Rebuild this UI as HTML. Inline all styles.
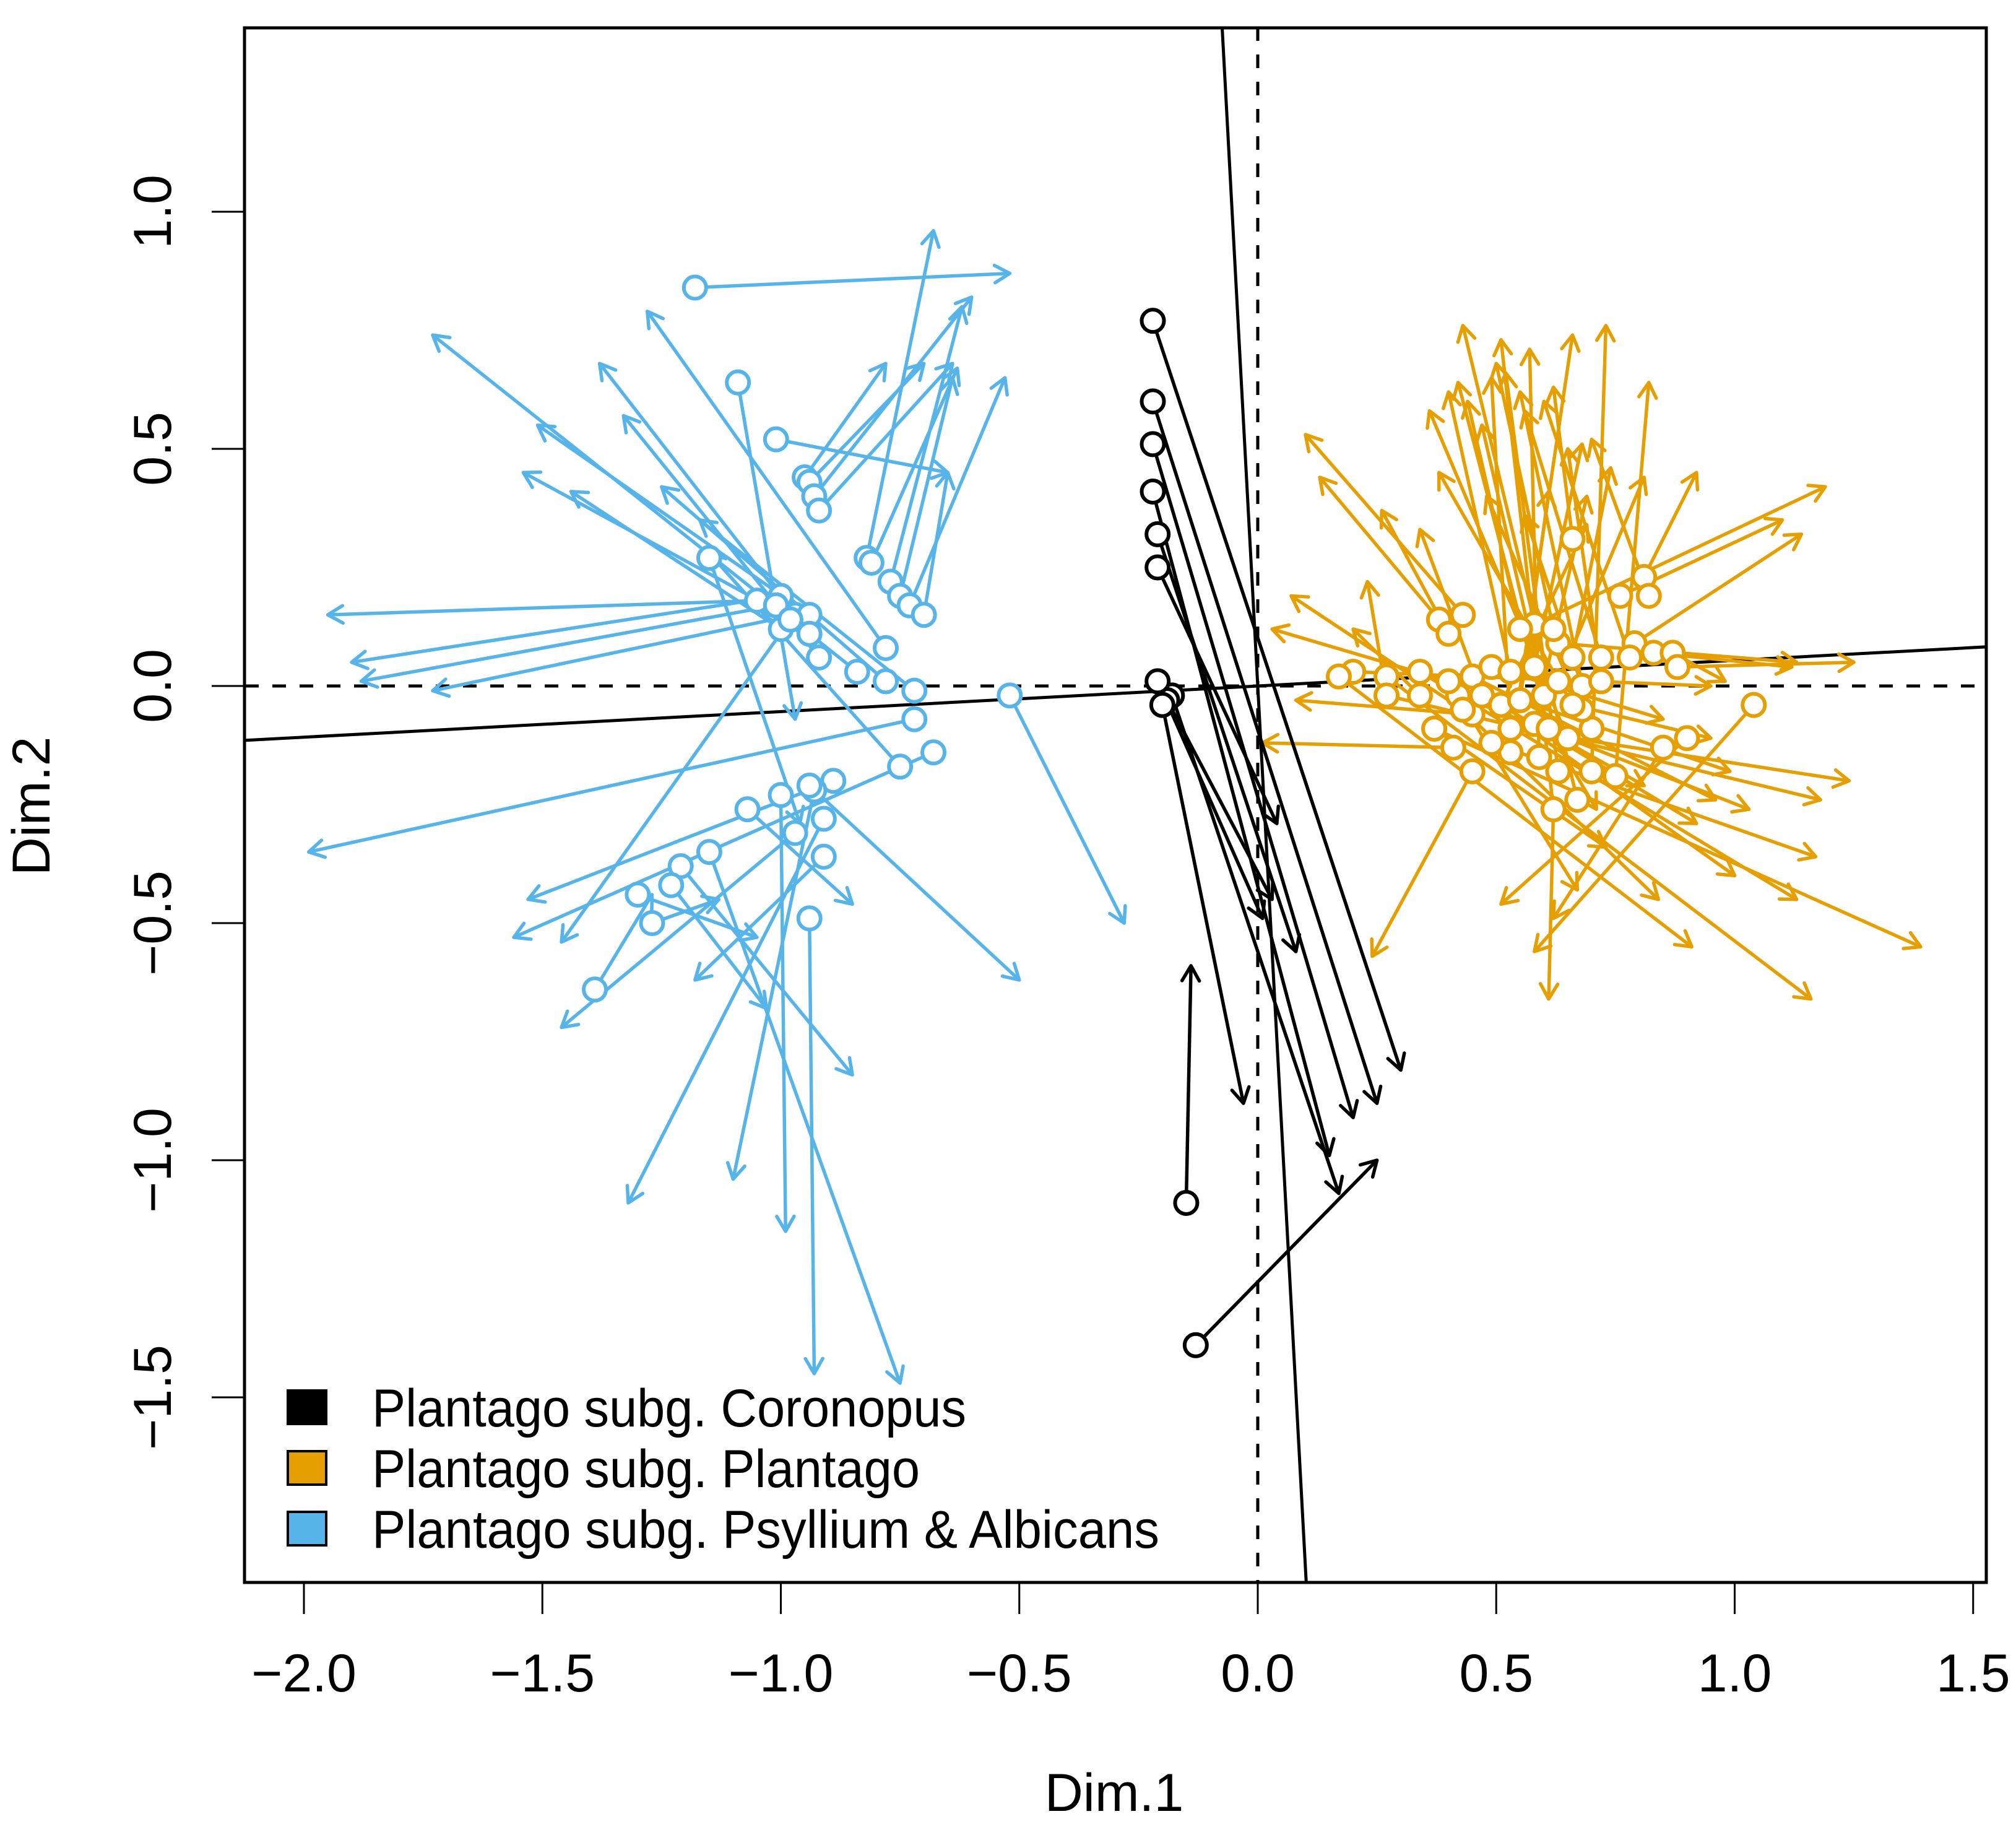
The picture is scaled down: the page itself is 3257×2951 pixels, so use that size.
<!DOCTYPE html>
<html><head><meta charset="utf-8"><style>
html,body{margin:0;padding:0;background:#fff;}
svg{display:block;}
text{font-family:"Liberation Sans",Arial,sans-serif;fill:#000;}
</style></head><body>
<svg id="chart" width="3257" height="2951" viewBox="0 0 3257 2951" xmlns="http://www.w3.org/2000/svg">
<defs><clipPath id="plotclip"><rect x="395" y="45" width="2814" height="2511"/></clipPath></defs>
<rect x="0" y="0" width="3257" height="2951" fill="#fff"/>
<g id="plot" clip-path="url(#plotclip)"></g>
<rect x="395" y="45" width="2814" height="2511" fill="none" stroke="#000" stroke-width="5"/>
<g id="axes"></g>
<text x="1800" y="2925" font-size="86" text-anchor="middle">Dim.1</text>
<text transform="translate(80,1302) rotate(-90)" x="0" y="0" font-size="86" text-anchor="middle">Dim.2</text>
<g id="legend">
<rect x="465" y="2246" width="62" height="54" fill="#000" stroke="#000" stroke-width="4"/>
<text x="601" y="2304" font-size="86" textLength="960" lengthAdjust="spacingAndGlyphs">Plantago subg. Coronopus</text>
<rect x="465" y="2344" width="62" height="54" fill="#E69F00" stroke="#000" stroke-width="4"/>
<text x="601" y="2402" font-size="86" textLength="885" lengthAdjust="spacingAndGlyphs">Plantago subg. Plantago</text>
<rect x="465" y="2442" width="62" height="54" fill="#56B4E9" stroke="#000" stroke-width="4"/>
<text x="601" y="2500" font-size="86" textLength="1272" lengthAdjust="spacingAndGlyphs">Plantago subg. Psyllium &amp; Albicans</text>
</g>
</svg>
<script>
// ---- data ----
const xTicks = [-2.0, -1.5, -1.0, -0.5, 0.0, 0.5, 1.0, 1.5];
const xTickLabels = ["\u22122.0", "\u22121.5", "\u22121.0", "\u22120.5", "0.0", "0.5", "1.0", "1.5"];
const yTicks = [1.0, 0.5, 0.0, -0.5, -1.0, -1.5];
const yTickLabels = ["1.0", "0.5", "0.0", "\u22120.5", "\u22121.0", "\u22121.5"];
const rotationSlopes = [-18.6, 0.054];
// arrows: [x0, y0, x1, y1]
const psylliumArrows = [
[-1.18,0.84,-0.52,0.87],[-1.09,0.64,-0.97,-0.07],[-1.01,0.52,-0.65,0.45],[-0.95,0.44,-0.78,0.68],
[-0.94,0.43,-0.70,0.68],[-0.93,0.40,-0.60,0.82],[-0.92,0.37,-0.64,0.68],[-0.82,0.27,-0.68,0.96],
[-0.81,0.26,-0.63,0.67],[-0.77,0.22,-0.62,0.80],[-0.75,0.19,-0.64,0.65],[-0.73,0.17,-0.53,0.65],
[-0.70,0.15,-0.65,0.45],[-1.05,0.18,-1.95,0.15],[-1.00,0.19,-1.90,0.05],[-0.97,0.15,-1.73,-0.01],
[-1.01,0.16,-1.54,0.45],[-1.15,0.27,-0.96,-0.29],[-0.94,0.15,-1.51,0.55],[-1.00,0.12,-1.44,0.41],
[-0.94,0.11,-1.38,0.68],[-0.92,0.06,-1.33,0.57],[-0.78,0.08,-1.28,0.79],[-0.84,0.03,-1.73,0.74],
[-0.78,0.01,-1.25,0.42],[-0.72,-0.01,-1.17,0.35],[-0.72,-0.07,-1.99,-0.35],[-0.68,-0.14,-1.56,-0.53],
[-0.75,-0.17,-1.15,0.28],[-0.52,-0.02,-0.28,-0.50],[-0.89,-0.20,-1.53,-0.45],[-0.93,-0.22,-1.10,-1.04],
[-0.94,-0.21,-0.50,-0.62],[-0.97,-0.31,-1.46,-0.72],[-0.91,-0.28,-1.32,-1.09],[-0.91,-0.36,-1.18,-0.62],
[-1.00,-0.23,-0.99,-1.15],[-1.07,-0.26,-0.85,-0.46],[-1.15,-0.35,-0.75,-1.47],[-1.21,-0.38,-0.85,-0.82],
[-1.23,-0.42,-1.03,-0.68],[-1.30,-0.44,-1.05,-0.53],[-1.27,-0.50,-1.13,-0.45],[-1.39,-0.64,-1.27,-0.44],
[-0.94,-0.49,-0.93,-1.45],[-1.01,0.17,-1.88,0.01],[-0.98,0.14,-1.46,-0.54]
];
const plantagoArrows = [
[0.67,-0.24,0.43,0.76],[0.62,-0.26,0.51,0.73],[0.63,-0.18,0.52,0.66],[0.59,-0.15,0.57,0.71],
[0.53,-0.14,0.66,0.74],[0.70,-0.18,0.73,0.76],[0.75,-0.19,0.82,0.64],[0.65,-0.11,0.36,0.58],
[0.61,-0.09,0.42,0.64],[0.53,-0.09,0.49,0.65],[0.70,-0.09,0.55,0.62],[0.60,-0.02,0.47,0.55],
[0.66,-0.04,0.38,0.45],[0.68,-0.05,0.48,0.40],[0.55,-0.03,0.61,0.41],[0.58,-0.08,0.69,0.40],
[0.51,-0.04,0.69,0.34],[0.63,0.01,0.81,0.44],[0.68,0.00,0.56,0.36],[0.72,0.01,0.65,0.50],
[0.58,0.04,0.68,0.51],[0.43,0.15,0.10,0.53],[0.38,0.14,0.13,0.44],[0.27,-0.02,0.23,0.22],
[0.40,0.11,0.26,0.37],[0.47,-0.02,0.34,0.33],[0.58,0.13,1.19,0.42],[0.79,0.09,1.14,0.32],
[0.63,0.09,1.13,0.05],[0.20,0.03,0.95,0.00],[0.43,-0.05,0.07,0.19],[0.40,0.01,0.03,0.12],
[0.45,-0.06,0.08,-0.03],[0.41,-0.13,0.01,-0.12],[0.34,-0.02,0.20,0.12],[0.45,-0.18,0.24,-0.57],
[1.04,-0.04,0.58,-0.56],[0.90,-0.11,0.51,-0.46],[0.62,-0.26,0.61,-0.66],[0.85,-0.13,0.62,-0.49],
[0.17,0.02,0.91,-0.55],[0.27,0.02,1.16,-0.66],[0.34,0.03,1.13,-0.45],[0.37,-0.09,1.39,-0.55],
[0.49,-0.12,1.17,-0.36],[0.42,-0.02,1.03,-0.26],[0.53,-0.09,1.24,-0.20],[0.27,-0.02,1.18,-0.24],
[0.45,0.02,0.96,-0.24],[0.49,0.04,0.85,-0.07],[0.47,-0.02,1.00,-0.40],[0.51,-0.04,0.92,-0.29],
[0.55,-0.03,0.99,-0.18],[0.37,-0.09,0.73,-0.34],[0.43,-0.05,0.84,-0.45],[0.40,0.01,0.67,-0.43],
[0.58,-0.08,0.81,-0.21],[0.61,-0.09,0.71,-0.26],[0.66,-0.04,0.95,-0.11],[0.66,0.31,0.62,0.63],
[0.76,0.19,1.10,0.35],[0.81,0.23,0.92,0.45],[0.82,0.19,0.70,0.52],[0.83,0.07,1.12,0.04],
[0.87,0.07,0.98,0.01],[0.88,0.04,1.25,0.05],[0.72,0.06,0.56,0.58],[0.78,0.06,0.60,0.60],
[0.53,0.03,0.40,0.62],[0.62,0.12,0.50,0.68],[0.55,0.12,0.44,0.60],[0.66,0.06,0.74,0.46]
];
const coronopusArrows = [
[-0.22,0.77,0.30,-0.81],[-0.22,0.60,0.25,-0.88],[-0.22,0.51,0.20,-0.91],[-0.22,0.41,0.15,-0.99],
[-0.21,0.32,0.08,-0.56],[-0.21,0.25,0.04,-0.29],[-0.18,-0.02,0.17,-1.07],[-0.19,-0.03,0.03,-0.45],
[-0.20,-0.04,-0.03,-0.88],[-0.21,0.01,0.01,-0.49],[-0.15,-1.09,-0.14,-0.59],[-0.13,-1.39,0.25,-1.00]
];

// ---- scales ----
function X(v){ return 2032 + v*770.5; }
function Y(v){ return 1108 - v*766; }
const NS = "http://www.w3.org/2000/svg";
const plot = document.getElementById('plot');
const axes = document.getElementById('axes');
function mk(tag, attrs, parent){ const e = document.createElementNS(NS, tag); for (const k in attrs) e.setAttribute(k, attrs[k]); parent.appendChild(e); return e; }

let dl = mk('line', {x1:X(0), y1:0, x2:X(0), y2:2951, stroke:'#000', 'stroke-width':5, 'stroke-dasharray':'22,22'}, plot);


let dh = mk('line', {x1:0, y1:Y(0), x2:3257, y2:Y(0), stroke:'#000', 'stroke-width':5, 'stroke-dasharray':'22,22'}, plot);


rotationSlopes.forEach(function(s, i){
  let x0, x1;
  if (Math.abs(s) > 1) { x0 = 2.0 / s; x1 = -2.5 / s; } else { x0 = -2.5; x1 = 2.0; }
  const l = mk('line', {x1:X(x0), y1:Y(s*x0), x2:X(x1), y2:Y(s*x1), stroke:'#000', 'stroke-width':5}, plot);
  
  
});

function drawGroup(arr, color, name){
  const g = mk('g', {}, plot);
  
  
  arr.forEach(function(a){
    const x0 = X(a[0]), y0 = Y(a[1]), x1 = X(a[2]), y1 = Y(a[3]);
    const ang = Math.atan2(y1 - y0, x1 - x0), L = 28, sp = Math.PI/6;
    const d = 'M' + x0 + ' ' + y0 + 'L' + x1 + ' ' + y1 +
      'M' + (x1 - L*Math.cos(ang - sp)) + ' ' + (y1 - L*Math.sin(ang - sp)) + 'L' + x1 + ' ' + y1 +
      'L' + (x1 - L*Math.cos(ang + sp)) + ' ' + (y1 - L*Math.sin(ang + sp));
    const p = mk('path', {d:d, stroke:color, 'stroke-width':5.5, fill:'none', 'stroke-linecap':'round', 'stroke-linejoin':'round'}, g);
    
    
  });
  arr.forEach(function(a){
    const c = mk('circle', {cx:X(a[0]), cy:Y(a[1]), r:18, fill:'#fff', stroke:color, 'stroke-width':6}, g);
    
    
  });
}
drawGroup(psylliumArrows, '#56B4E9', 'psyllium');
drawGroup(plantagoArrows, '#E69F00', 'plantago');
drawGroup(coronopusArrows, '#000000', 'coronopus');

xTicks.forEach(function(v, i){
  const t = mk('line', {x1:X(v), y1:2556, x2:X(v), y2:2607, stroke:'#000', 'stroke-width':3}, axes);
  
  
  const tx = mk('text', {x:X(v), y:2732, 'font-size':86, 'text-anchor':'middle'}, axes);
  tx.textContent = xTickLabels[i];
  
  
});
yTicks.forEach(function(v, i){
  const t = mk('line', {x1:342, y1:Y(v), x2:395, y2:Y(v), stroke:'#000', 'stroke-width':3}, axes);
  
  
  const tx = mk('text', {transform:'translate(276,' + Y(v) + ') rotate(-90)', x:0, y:0, 'font-size':86, 'text-anchor':'middle'}, axes);
  tx.textContent = yTickLabels[i];
  
  
});
</script>
</body></html>
